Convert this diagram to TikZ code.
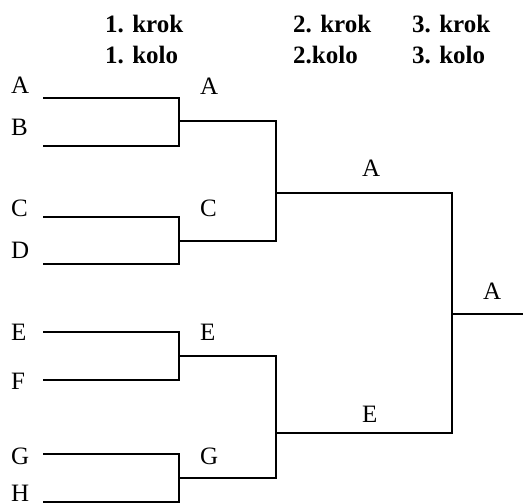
\documentclass[tikz,border=0pt]{standalone}
\usepackage{fontspec}
\setmainfont{Liberation Serif}
\begin{document}
\begin{tikzpicture}[x=1pt,y=-1pt,
  lbl/.style={anchor=base west,inner sep=0pt,font=\fontsize{25}{30}\selectfont},
  hdr/.style={anchor=base west,inner sep=0pt,font=\fontsize{25}{30}\selectfont\bfseries},
  wire/.style={line width=1.3pt}]
\useasboundingbox (0,0) rectangle (523,504);
% headers
\node[hdr] (h1a) at (105,32) {1. krok};
\node[hdr] (h1b) at (105,63) {1. kolo};
\node[hdr] (h2a) at (293,32) {2. krok};
\node[hdr] (h2b) at (293,63) {2.kolo};
\node[hdr] (h3a) at (412,32) {3. krok};
\node[hdr] (h3b) at (412,63) {3. kolo};
% left labels
\node[lbl] (lA) at (11,93) {A};
\node[lbl] (lB) at (11,135) {B};
\node[lbl] (lC) at (11,216) {C};
\node[lbl] (lD) at (11,258) {D};
\node[lbl] (lE) at (11,340) {E};
\node[lbl] (lF) at (11,389) {F};
\node[lbl] (lG) at (11,464) {G};
\node[lbl] (lH) at (11,501) {H};
% round 1 winners
\node[lbl] (mA) at (200,94) {A};
\node[lbl] (mC) at (200,216) {C};
\node[lbl] (mE) at (200,340) {E};
\node[lbl] (mG) at (200,464) {G};
% round 2 winners
\node[lbl] (rA) at (362,176) {A};
\node[lbl] (rE) at (362,422) {E};
% final
\node[lbl] (fA) at (483,299) {A};
% line coordinates
\coordinate (sA) at (43,98);
\coordinate (sB) at (43,146);
\coordinate (sC) at (43,217);
\coordinate (sD) at (43,264);
\coordinate (sE) at (43,332);
\coordinate (sF) at (43,380);
\coordinate (sG) at (43,454);
\coordinate (sH) at (43,502);
\coordinate (j1) at (179,121);
\coordinate (j2) at (179,241);
\coordinate (j3) at (179,356);
\coordinate (j4) at (179,478);
\coordinate (q1) at (276,193);
\coordinate (q2) at (276,433);
\coordinate (f) at (452,314);
\coordinate (fe) at (523,314);
% round 1
\draw[wire] (sA) -| (j1) |- (sB);
\draw[wire] (sC) -| (j2) |- (sD);
\draw[wire] (sE) -| (j3) |- (sF);
\draw[wire] (sG) -| (j4) |- (sH);
% round 2
\draw[wire] (j1) -| (q1) |- (j2);
\draw[wire] (j3) -| (q2) |- (j4);
% round 3
\draw[wire] (q1) -| (f) |- (q2);
\draw[wire] (f) -- (fe);
\end{tikzpicture}
\end{document}
